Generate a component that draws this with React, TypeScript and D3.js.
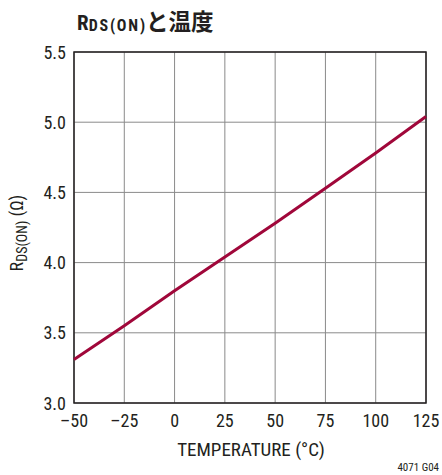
import React from "react";
import * as d3 from "d3";

const temperatures = [-50, -25, 0, 25, 50, 75, 100, 125];
const rdsOn = [3.31, 3.55, 3.8, 4.04, 4.28, 4.53, 4.78, 5.04];
const xTicks = [-50, -25, 0, 25, 50, 75, 100, 125];
const yTicks = [3.0, 3.5, 4.0, 4.5, 5.0, 5.5];

const W = 442;
const H = 475;
const M = { left: 74, right: 426, top: 52, bottom: 403 };
const FONT = "'Roboto Condensed', Roboto, sans-serif";

export default function App() {
  const x = d3.scaleLinear().domain([-50, 125]).range([M.left, M.right]);
  const y = d3.scaleLinear().domain([3.0, 5.5]).range([M.bottom, M.top]);
  const pts = temperatures.map((t, i) => [t, rdsOn[i]] as [number, number]);
  const line = d3
    .line<[number, number]>()
    .x((d) => x(d[0]))
    .y((d) => y(d[1]));

  return (
    <svg
      width={W}
      height={H}
      style={{ position: "absolute", left: 0, top: 0, background: "#fff" }}
      fontFamily={FONT}
    >
      {/* title */}
      <text x={77} y={30} fontSize={21} fontWeight="bold" fill="#231f20">
        R
        <tspan fontSize={16} dy={1} letterSpacing={1.8}>DS(ON)</tspan>
        <tspan fontSize={22.5} dy={-1} dx={-1} fontFamily="'Noto Sans CJK JP', sans-serif">と温度</tspan>
      </text>

      {/* grid */}
      {xTicks.map((t) => (
        <line key={"gx" + t} x1={x(t)} x2={x(t)} y1={M.top} y2={M.bottom} stroke="#8a8a8a" strokeWidth={1} />
      ))}
      {yTicks.map((t) => (
        <line key={"gy" + t} x1={M.left} x2={M.right} y1={y(t)} y2={y(t)} stroke="#8a8a8a" strokeWidth={1} />
      ))}
      <rect
        x={M.left}
        y={M.top}
        width={M.right - M.left}
        height={M.bottom - M.top}
        fill="none"
        stroke="#231f20"
        strokeWidth={1.5}
      />

      {/* data */}
      <path d={line(pts) ?? ""} fill="none" stroke="#a0073a" strokeWidth={3} />

      {/* y tick labels */}
      {yTicks.map((t) => (
        <text key={"ly" + t} x={66} y={y(t) + 6.5} textAnchor="end" fontSize={18} fill="#231f20">
          {t.toFixed(1)}
        </text>
      ))}
      {/* x tick labels */}
      {xTicks.map((t) => (
        <text key={"lx" + t} x={x(t)} y={427} textAnchor="middle" fontSize={18} fill="#231f20">
          {t < 0 ? "\u2013" + Math.abs(t) : String(t)}
        </text>
      ))}

      {/* axis titles */}
      <text x={251} y={456} textAnchor="middle" fontSize={19} fill="#231f20">
        TEMPERATURE (°C)
      </text>
      <text transform="translate(23,233) rotate(-90)" textAnchor="middle" fontSize={18} fill="#231f20">
        R<tspan fontSize={14} dy={4}>DS(ON)</tspan>
        <tspan dy={-4}> (Ω)</tspan>
      </text>
      <text x={439} y={471} textAnchor="end" fontSize={11} fill="#231f20">
        4071 G04
      </text>
    </svg>
  );
}
